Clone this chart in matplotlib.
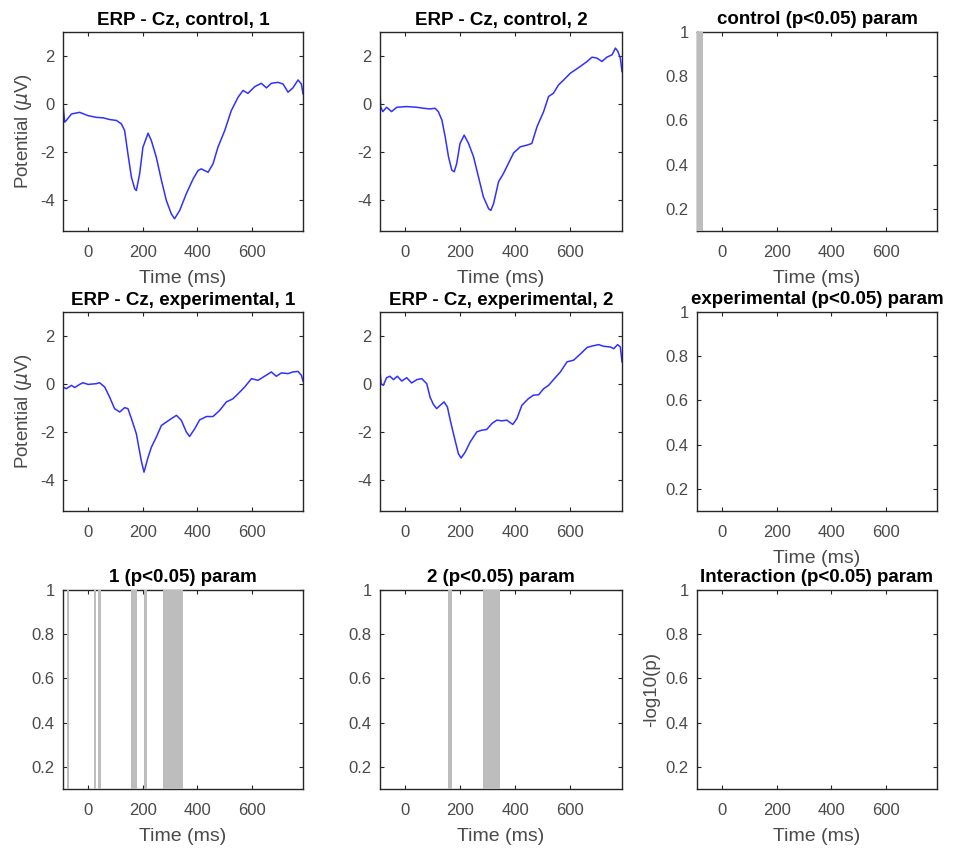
import matplotlib
matplotlib.use('Agg')
import matplotlib.pyplot as plt
from matplotlib.ticker import FormatStrFormatter

plt.rcParams['font.family'] = ['Liberation Sans', 'DejaVu Sans']
plt.rcParams['mathtext.fontset'] = 'dejavusans'
plt.rcParams['axes.unicode_minus'] = False

# ERP curves (time in ms, potential in uV)
t_ctrl1 = [-92, -86, -80, -61, -31, 0, 30, 55, 79, 104, 122, 134, 146, 159, 171, 177, 189, 201,
           220, 232, 250, 269, 287, 305, 317, 336, 360, 385, 403, 415, 440, 458, 476, 501, 525,
           550, 568, 586, 611, 635, 654, 672, 696, 715, 733, 751, 770, 782, 788]
v_ctrl1 = [0, -0.76, -0.69, -0.42, -0.35, -0.49, -0.56, -0.58, -0.65, -0.69, -0.83, -1.11, -2.08,
           -3.06, -3.54, -3.61, -2.92, -1.81, -1.22, -1.53, -2.22, -3.19, -4.03, -4.58, -4.79,
           -4.44, -3.75, -3.13, -2.78, -2.71, -2.85, -2.5, -1.81, -1.11, -0.28, 0.28, 0.56, 0.44,
           0.72, 0.86, 0.67, 0.86, 0.9, 0.83, 0.49, 0.67, 1.0, 0.83, 0.42]

t_ctrl2 = [-92, -90, -82, -68, -50, -31, 5, 42, 66, 90, 108, 120, 133, 145, 157, 169, 178, 187,
           199, 214, 230, 248, 266, 284, 303, 311, 321, 339, 357, 375, 394, 418, 442, 460, 479,
           503, 521, 539, 557, 576, 600, 618, 636, 661, 679, 697, 715, 733, 752, 764, 773, 782, 788]
v_ctrl2 = [0.73, -0.11, -0.32, -0.14, -0.32, -0.14, -0.11, -0.14, -0.18, -0.21, -0.18, -0.32,
           -0.67, -1.37, -2.2, -2.76, -2.83, -2.48, -1.65, -1.3, -1.65, -2.2, -3.04, -3.88, -4.37,
           -4.44, -4.16, -3.25, -2.9, -2.48, -2.04, -1.79, -1.72, -1.65, -0.95, -0.32, 0.31, 0.45,
           0.79, 1.0, 1.28, 1.42, 1.56, 1.77, 1.95, 1.91, 1.77, 1.95, 2.05, 2.33, 2.19, 1.91, 1.35]

t_exp1 = [-92, -80, -61, -49, -31, -19, 0, 30, 42, 61, 79, 97, 116, 134, 146, 159, 177, 195, 205,
          220, 232, 250, 269, 287, 305, 324, 342, 360, 372, 391, 409, 434, 458, 482, 507, 531,
          550, 574, 599, 623, 647, 672, 690, 709, 733, 751, 770, 782, 788]
v_exp1 = [-0.13, -0.2, -0.06, -0.15, -0.02, 0.05, -0.02, 0.01, 0.05, -0.13, -0.55, -1.03, -1.17,
          -0.99, -1.03, -1.45, -2.08, -3.2, -3.68, -3.06, -2.64, -2.22, -1.73, -1.59, -1.45,
          -1.31, -1.52, -2.0, -2.19, -1.87, -1.5, -1.36, -1.36, -1.11, -0.75, -0.62, -0.41, -0.13,
          0.22, 0.15, 0.32, 0.5, 0.32, 0.46, 0.43, 0.5, 0.52, 0.36, 0.12]

t_exp2 = [-92, -88, -80, -68, -56, -43, -29, -13, 5, 23, 42, 60, 78, 90, 102, 114, 127, 141, 153,
          165, 181, 193, 203, 218, 236, 260, 278, 296, 315, 333, 351, 369, 391, 406, 424, 448,
          466, 485, 503, 521, 539, 564, 588, 612, 636, 661, 679, 703, 721, 746, 758, 772, 782, 788]
v_exp2 = [0.57, 0.01, -0.06, 0.26, 0.32, 0.18, 0.32, 0.12, 0.26, 0.04, 0.18, 0.22, 0.01, -0.55,
          -0.85, -1.03, -0.89, -0.75, -0.96, -1.59, -2.35, -2.91, -3.09, -2.84, -2.42, -2.0,
          -1.93, -1.9, -1.65, -1.51, -1.54, -1.51, -1.69, -1.44, -0.89, -0.61, -0.47, -0.45, -0.2,
          -0.06, 0.18, 0.5, 0.92, 0.99, 1.24, 1.52, 1.58, 1.64, 1.57, 1.54, 1.47, 1.64, 1.54, 0.92]

# significant time windows (ms), p < 0.05
sig_control = [(-92, -70)]
sig_experimental = []
sig_factor1 = [(-78, -70), (23, 30), (38, 46), (156, 180), (206, 215), (276, 349)]
sig_factor2 = [(157, 169), (284, 344)]
sig_interaction = []

erp_titles = ['ERP - Cz, control, 1', 'ERP - Cz, control, 2',
              'ERP - Cz, experimental, 1', 'ERP - Cz, experimental, 2']
stat_titles = ['control (p<0.05) param', 'experimental (p<0.05) param',
               '1 (p<0.05) param', '2 (p<0.05) param', 'Interaction (p<0.05) param']

xticks = [0, 200, 400, 600]
xlim = (-92, 788)

W, H = 957, 849
fig = plt.figure(figsize=(W / 100, H / 100), dpi=100)

col_x = [(63, 240), (380, 242), (697, 240)]
row_y = [32, 312, 590]
ax_h = 199

dark = '#262626'
grey = '#4a4a4a'


def make_ax(col, row):
    left, width = col_x[col]
    top = row_y[row]
    ax = fig.add_axes([left / W, 1 - (top + ax_h) / H, width / W, ax_h / H])
    ax.set_xlim(*xlim)
    ax.set_xticks(xticks)
    ax.tick_params(direction='in', top=True, right=True, length=3, width=0.8,
                   color=dark, labelcolor=grey, labelsize=12)
    ax.tick_params(axis='x', pad=10)
    ax.tick_params(axis='y', pad=6)
    for s in ax.spines.values():
        s.set_color(dark)
        s.set_linewidth(1.0)
    return ax


def erp_panel(col, row, t, v, title, xlabel=True, ylabel=False):
    ax = make_ax(col, row)
    ax.plot(t, v, color='#3030ff', lw=1.1)
    ax.set_ylim(-5.3, 3)
    ax.set_yticks([-4, -2, 0, 2])
    ax.set_title(title, fontsize=13.5, fontweight='bold', pad=5)
    if xlabel:
        ax.set_xlabel('Time (ms)', fontsize=14, color=grey, labelpad=7)
    if ylabel:
        ax.set_ylabel(r'Potential ($\mu$V)', fontsize=13.5, color=grey, labelpad=4)
    return ax


def stat_panel(col, row, spans, title, xlabel=True, ylabel=False):
    ax = make_ax(col, row)
    for a, b in spans:
        ax.axvspan(a, b, color='#bdbdbd', lw=0, zorder=3)
    ax.set_ylim(0.1, 1)
    ax.set_yticks([0.2, 0.4, 0.6, 0.8, 1])
    ax.yaxis.set_major_formatter(FormatStrFormatter('%g'))
    ax.set_title(title, fontsize=13.5, fontweight='bold', pad=6)
    if xlabel:
        ax.set_xlabel('Time (ms)', fontsize=14, color=grey, labelpad=7)
    if ylabel:
        ax.set_ylabel('-log10(p)', fontsize=13.5, color=grey, labelpad=4)
    return ax


erp_panel(0, 0, t_ctrl1, v_ctrl1, erp_titles[0], ylabel=True)
erp_panel(1, 0, t_ctrl2, v_ctrl2, erp_titles[1])
stat_panel(2, 0, sig_control, stat_titles[0])

erp_panel(0, 1, t_exp1, v_exp1, erp_titles[2], xlabel=False, ylabel=True)
erp_panel(1, 1, t_exp2, v_exp2, erp_titles[3], xlabel=False)
stat_panel(2, 1, sig_experimental, stat_titles[1])

stat_panel(0, 2, sig_factor1, stat_titles[2])
stat_panel(1, 2, sig_factor2, stat_titles[3])
stat_panel(2, 2, sig_interaction, stat_titles[4], ylabel=True)

fig.savefig('out.png', dpi=100)
